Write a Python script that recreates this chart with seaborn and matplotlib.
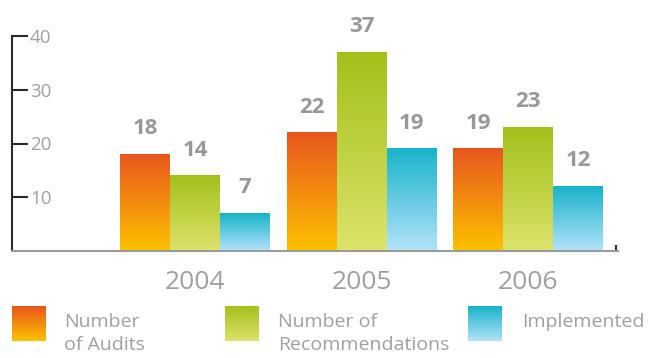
import numpy as np
import pandas as pd
import matplotlib
matplotlib.use("Agg")
import matplotlib.pyplot as plt
from matplotlib.colors import LinearSegmentedColormap
import seaborn as sns

# ── Data ──────────────────────────────────────────────────────────────────────
years = ["2004", "2005", "2006"]
series = ["Number of Audits", "Number of Recommendations", "Implemented"]
audits = [18, 22, 19]
recommendations = [14, 37, 23]
implemented = [7, 19, 12]
y_ticks = [10, 20, 30, 40]
legend_labels = ["Number\nof Audits", "Number of\nRecommendations", "Implemented"]

# colori dei gradienti (basso, alto) per ogni serie
gradient_colors = [
    ("#fdc200", "#e8561e"),
    ("#dde36c", "#a3c01a"),
    ("#b3e3f9", "#18b3ca"),
]

GRAY = "#a0a0a2"
DARK = "#2a2a2a"

sns.set_theme(style="white")
plt.rcParams["font.family"] = ["Open Sans", "DejaVu Sans"]

df = pd.DataFrame({
    "year": years * 3,
    "series": np.repeat(series, len(years)),
    "value": audits + recommendations + implemented,
})

W, H = 650, 358
fig = plt.figure(figsize=(W / 100, H / 100), dpi=100)
ax = fig.add_axes([12 / W, (H - 251) / H, 606 / W, 215 / H])

sns.barplot(data=df, x="year", y="value", hue="series", order=years,
            hue_order=series, width=0.9, gap=0, errorbar=None,
            saturation=1, linewidth=0, legend=False, ax=ax)

grad = np.linspace(0, 1, 256).reshape(-1, 1)
cmaps = [LinearSegmentedColormap.from_list(s, c) for s, c in zip(series, gradient_colors)]

# ogni barra viene sostituita da un'immagine con gradiente verticale
for container, cmap in zip(ax.containers, cmaps):
    for bar in container:
        x0, w, h = bar.get_x(), bar.get_width(), bar.get_height()
        bar.set_visible(False)
        ax.imshow(grad, extent=[x0, x0 + w, 0, h], origin="lower",
                  aspect="auto", cmap=cmap, zorder=2)
        ax.annotate(f"{h:.0f}", xy=(x0 + w / 2, h), xytext=(0, 14.4),
                    textcoords="offset points", ha="center", va="baseline",
                    fontsize=16, fontweight="bold", color="#98989c")

ax.set_xlim(-1.10, 2.54)
ax.set_ylim(0, 40)
ax.set_xlabel("")
ax.set_ylabel("")

for side in ("top", "right"):
    ax.spines[side].set_visible(False)
ax.spines["left"].set_color(DARK)
ax.spines["left"].set_linewidth(1.5)
ax.spines["bottom"].set_color("#9b9b9b")
ax.spines["bottom"].set_linewidth(1.5)

ax.set_yticks(y_ticks)
ax.tick_params(axis="y", left=True, direction="in", length=11.5, width=1.5,
               color=DARK, pad=-13, labelsize=13.5, labelcolor=GRAY)
for lbl in ax.get_yticklabels():
    lbl.set_ha("left")

ax.tick_params(axis="x", which="major", bottom=False, pad=8, labelsize=19,
               labelcolor=GRAY)
ax.set_xticks([ax.get_xlim()[1] - 0.01], minor=True)
ax.tick_params(axis="x", which="minor", bottom=True, direction="in",
               length=4.5, width=1.5, color=DARK)

# ── Legenda ───────────────────────────────────────────────────────────────────
square_x = [12, 225, 468]
text_x = [64, 278, 522]
for sx, tx, label, cmap in zip(square_x, text_x, legend_labels, cmaps):
    lax = fig.add_axes([sx / W, (H - 341) / H, 34 / W, 35 / H])
    lax.imshow(grad, origin="lower", aspect="auto", cmap=cmap)
    lax.axis("off")
    fig.text(tx / W, (H - 313) / H, label, ha="left", va="top",
             fontsize=14, color=GRAY, linespacing=1.35)

fig.savefig("out.png", dpi=100)
